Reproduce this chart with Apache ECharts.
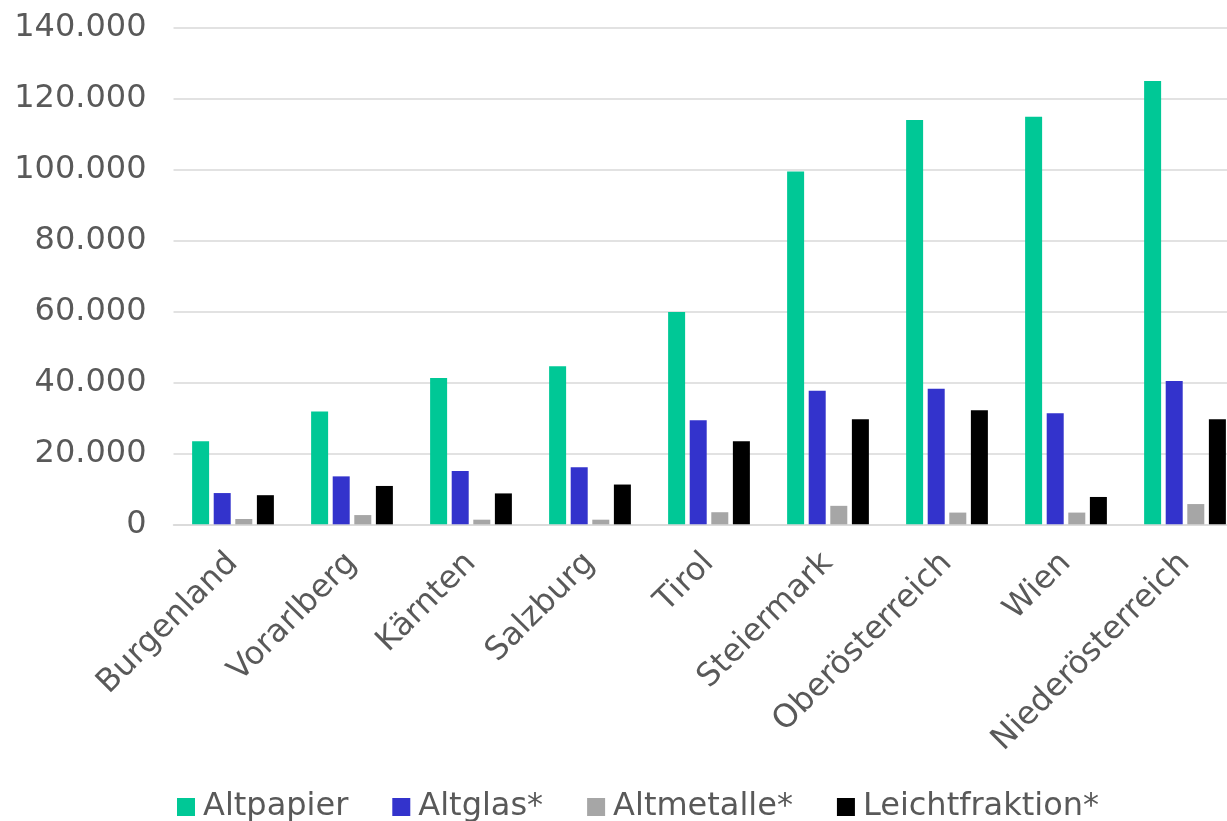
<!DOCTYPE html>
<html><head><meta charset="utf-8">
<script src="https://cdn.jsdelivr.net/npm/echarts@6/dist/echarts.min.js"></script>
<style>html,body{margin:0;padding:0;background:#fff}#c{width:1227px;height:821px}</style>
</head><body><div id="c"></div>
<script>
const categories = ['Burgenland','Vorarlberg','Kärnten','Salzburg','Tirol','Steiermark','Oberösterreich','Wien','Niederösterreich'];
const seriesNames = ['Altpapier','Altglas*','Altmetalle*','Leichtfraktion*'];
const altpapier = [23400, 31800, 41200, 44500, 59800, 99400, 113900, 114800, 124900];
const altglas = [8800, 13500, 15000, 16100, 29300, 37600, 38200, 31300, 40400];
const altmetalle = [1500, 2600, 1300, 1300, 3400, 5200, 3300, 3300, 5700];
const leichtfraktion = [8200, 10800, 8700, 11200, 23400, 29600, 32100, 7700, 29600];
const yTicks = [0, 20000, 40000, 60000, 80000, 100000, 120000, 140000];

const colors = ['#00C896', '#3333CC', '#A6A6A6', '#000000'];
const font = 'DejaVu Sans, Verdana, sans-serif';
const fmt = v => String(v).replace(/\B(?=(\d{3})+(?!\d))/g, '.');

const chart = echarts.init(document.getElementById('c'), null, {renderer: 'canvas'});
const dataArr = [altpapier, altglas, altmetalle, leichtfraktion];
chart.setOption({
  animation: false,
  color: colors,
  textStyle: {fontFamily: font},
  grid: {left: 173.5, top: 27.3, width: 1071, height: 497, containLabel: false, outerBoundsMode: 'none'},
  legend: {
    left: 172, top: 786,
    itemWidth: 18, itemHeight: 18, itemGap: 44,
    icon: 'rect',
    textStyle: {fontSize: 32, color: '#595959', fontFamily: font, padding: [0, 0, 0, 3]},
    data: seriesNames
  },
  xAxis: {
    type: 'category',
    data: categories,
    axisLine: {lineStyle: {color: '#d9d9d9', width: 1.5}},
    axisTick: {show: false},
    axisLabel: {rotate: 45, fontSize: 32, color: '#595959', margin: 34, interval: 0, fontFamily: font}
  },
  yAxis: {
    type: 'value',
    min: yTicks[0], max: yTicks[yTicks.length - 1], interval: 20000,
    axisLine: {show: false},
    axisTick: {show: false},
    splitLine: {lineStyle: {color: '#d9d9d9', width: 1.5}},
    axisLabel: {fontSize: 32, color: '#595959', margin: 27, formatter: fmt, fontFamily: font}
  },
  series: seriesNames.map((n, i) => ({
    name: n,
    type: 'bar',
    data: dataArr[i],
    barWidth: 17,
    barGap: '27%',
    itemStyle: {color: colors[i]}
  }))
});
</script>
</body></html>
